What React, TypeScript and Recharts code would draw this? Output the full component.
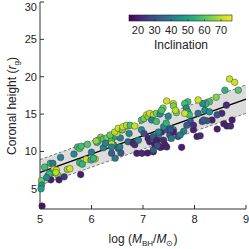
import React from 'react';
import { ComposedChart, XAxis, YAxis, Scatter, Line, Area } from 'recharts';

// log(M_BH / M_sun), coronal height (r_g) and inclination (deg), one entry per source
const logMass = [
  5.04, 5.03, 5.03, 5.02, 5.09, 5.2, 5.25, 5.27, 5.32, 5.22,
  5.16, 5.35, 5.21, 5.37, 5.47, 5.4, 5.53, 5.58, 5.66, 5.73,
  5.77, 5.8, 5.92, 5.77, 5.82, 5.9, 5.79, 6.11, 6.18, 5.99,
  6.0, 6.07, 6.13, 5.18, 5.13, 5.31, 6.23, 6.23, 6.3, 6.39,
  6.46, 6.59, 6.56, 6.04, 6.43, 6.52, 6.39, 6.46, 6.88, 6.98,
  7.2, 6.49, 6.69, 6.39, 6.27, 6.36, 6.45, 6.52, 6.6, 6.61,
  6.68, 6.75, 6.84, 6.73, 6.71, 6.81, 6.84, 6.91, 6.97, 6.97,
  7.02, 7.07, 7.1, 7.13, 7.2, 7.26, 7.33, 7.39, 7.36, 7.46,
  7.59, 7.65, 7.49, 7.17, 7.02, 7.1, 7.13, 7.2, 7.26, 7.3,
  7.36, 7.46, 7.52, 7.59, 7.55, 7.68, 7.39, 7.23, 7.36, 7.46,
  7.09, 6.55, 6.57, 6.39, 8.68, 8.78, 8.85, 8.59, 8.42, 8.29,
  8.22, 8.16, 8.07, 7.87, 7.81, 7.84, 7.87, 7.9, 7.81, 8.07,
  8.2, 8.62, 8.73, 8.53, 8.44, 8.34, 8.44, 8.63, 8.7, 8.57,
  8.15, 8.24, 7.98, 8.05, 8.11, 7.92, 7.85, 7.79, 7.72, 7.59,
  7.53, 7.75, 7.4, 7.2, 7.59, 7.63, 7.26, 7.4, 7.45, 7.53,
  7.3, 7.2, 7.27, 7.33, 7.43, 7.98, 8.18, 7.28, 8.29, 6.09,
];
const coronaHeight = [
  2.7, 6.1, 5.5, 5.0, 7.9, 8.4, 8.4, 7.6, 7.5, 7.1,
  6.8, 6.8, 6.2, 6.2, 6.6, 9.2, 7.6, 7.7, 9.65, 10.6,
  10.4, 10.7, 10.95, 8.5, 8.3, 8.95, 6.9, 11.2, 11.9, 8.85,
  9.9, 9.0, 11.5, 7.0, 6.5, 7.2, 10.5, 11.65, 11.8, 11.5,
  12.0, 12.9, 11.8, 9.07, 10.85, 10.4, 9.75, 9.1, 9.75, 9.75,
  9.95, 12.4, 13.4, 11.0, 11.1, 12.2, 12.6, 13.1, 12.9, 13.3,
  13.5, 13.5, 13.4, 12.4, 11.3, 11.1, 10.9, 11.5, 12.9, 14.2,
  14.4, 14.9, 14.65, 15.1, 14.9, 15.1, 15.0, 15.8, 15.5, 16.75,
  16.4, 15.2, 14.7, 14.2, 12.4, 11.75, 11.3, 11.6, 11.3, 12.0,
  12.6, 12.9, 12.2, 12.9, 11.75, 12.0, 11.3, 10.9, 10.6, 10.6,
  9.8, 10.6, 9.8, 10.6, 19.7, 19.25, 18.2, 18.2, 17.25, 16.65,
  16.4, 16.4, 16.9, 16.65, 16.4, 15.8, 15.3, 14.9, 15.1, 15.1,
  15.5, 16.2, 14.2, 15.1, 14.9, 14.2, 13.0, 13.4, 13.4, 13.7,
  14.0, 14.1, 12.9, 12.0, 12.1, 14.0, 13.5, 12.7, 12.2, 12.6,
  13.1, 10.55, 11.5, 10.2, 16.1, 15.5, 14.0, 13.3, 13.8, 12.9,
  12.6, 12.0, 11.5, 10.55, 10.85, 13.5, 14.2, 10.8, 15.3, 11.4,
];
const inclination = [
  18, 62, 45, 50, 58, 55, 40, 72, 73, 55,
  48, 64, 20, 20, 24, 42, 66, 72, 44, 57,
  60, 58, 60, 56, 55, 72, 20, 57, 65, 55,
  40, 72, 60, 56, 44, 70, 42, 60, 64, 57,
  50, 56, 42, 56, 42, 35, 33, 40, 20, 22,
  20, 72, 64, 72, 42, 62, 70, 72, 64, 72,
  70, 58, 72, 44, 35, 20, 22, 42, 45, 58,
  64, 72, 65, 72, 70, 64, 45, 64, 58, 72,
  72, 64, 44, 42, 28, 20, 20, 30, 32, 42,
  22, 30, 32, 42, 40, 30, 64, 20, 20, 22,
  20, 42, 32, 42, 72, 72, 60, 55, 65, 58,
  56, 45, 72, 58, 58, 44, 50, 58, 72, 38,
  45, 22, 20, 22, 30, 20, 20, 20, 22, 20,
  30, 32, 20, 20, 22, 32, 32, 42, 40, 20,
  42, 20, 22, 32, 64, 70, 58, 44, 55, 30,
  42, 32, 20, 20, 20, 22, 32, 30, 45, 66,
];

// linear fit and its scatter band
const fitX = [5, 9];
const fitY = [7.2, 17.0];
const bandLow = [5.5, 15.1];
const bandHigh = [8.9, 18.9];

const xTicks = [5, 6, 7, 8, 9];
const xMinorTicks = [5.2, 5.4, 5.6, 5.8, 6.2, 6.4, 6.6, 6.8, 7.2, 7.4, 7.6, 7.8, 8.2, 8.4, 8.6, 8.8];
const yTicks = [5, 10, 15, 20, 25, 30];
const yMinorTicks = [3, 4, 6, 7, 8, 9, 11, 12, 13, 14, 16, 17, 18, 19, 21, 22, 23, 24, 26, 27, 28, 29];
const cbarTicks = [20, 30, 40, 50, 60, 70];
const INC_MIN = 14.6;
const INC_MAX = 76.6;

const VIRIDIS = ['#440154', '#482475', '#414487', '#355f8d', '#2a788e', '#21918c', '#22a884', '#44bf70', '#7ad151', '#bddf26', '#fde725'];

const FONT = '"Liberation Sans", Arial, sans-serif';
const AXIS = '#333';

const hexToRgb = (h: string) => [1, 3, 5].map((i) => parseInt(h.slice(i, i + 2), 16));

const viridis = (v: number) => {
  const t = Math.min(1, Math.max(0, (v - INC_MIN) / (INC_MAX - INC_MIN)));
  const pos = t * (VIRIDIS.length - 1);
  const i = Math.min(VIRIDIS.length - 2, Math.floor(pos));
  const f = pos - i;
  const a = hexToRgb(VIRIDIS[i]);
  const b = hexToRgb(VIRIDIS[i + 1]);
  const c = a.map((ch, k) => Math.round(ch + (b[k] - ch) * f));
  return `rgb(${c[0]},${c[1]},${c[2]})`;
};

const points = logMass.map((x, i) => ({ x, y: coronaHeight[i], inc: inclination[i] }));
const fitData = fitX.map((x, i) => ({ x, y: fitY[i] }));
const bandData = fitX.map((x, i) => ({ x, band: [bandLow[i], bandHigh[i]], lo: bandLow[i], hi: bandHigh[i] }));

const renderDot = (props: any) => {
  const { cx, cy, payload } = props;
  if (cx == null || cy == null) return <g />;
  return <circle cx={cx} cy={cy} r={3.3} fill={viridis(payload.inc)} stroke="#333" strokeWidth={0.45} />;
};

// top label is nudged down so it stays inside the page, as in the original
const YTick = (props: any) => {
  const { x, y, payload } = props;
  const shift = payload.value === 30 ? 5 : 0;
  return (
    <text x={x} y={y + shift} dy="0.355em" textAnchor="end" fontSize={11} fontFamily={FONT} fill="#222">
      {payload.value}
    </text>
  );
};

// colorbar geometry (page pixels)
const CB_X0 = 129;
const CB_X1 = 232;
const CB_Y = 15;
const CB_H = 6;
const cbX = (v: number) => CB_X0 + ((v - INC_MIN) / (INC_MAX - INC_MIN)) * (CB_X1 - CB_X0);

const tickStyle = { fontSize: 11, fill: '#222', fontFamily: FONT };

const Overlay = () => (
  <svg width={249} height={249} style={{ position: 'absolute', left: 0, top: 0, pointerEvents: 'none' }}>
    <defs>
      <linearGradient id="vir" x1="0" x2="1" y1="0" y2="0">
        {VIRIDIS.map((c, i) => (
          <stop key={i} offset={`${(i / (VIRIDIS.length - 1)) * 100}%`} stopColor={c} />
        ))}
      </linearGradient>
    </defs>
    <rect x={CB_X0} y={CB_Y} width={CB_X1 - CB_X0} height={CB_H} fill="url(#vir)" stroke="#222" strokeWidth={0.6} />
    {cbarTicks.map((t) => (
      <g key={t}>
        <line x1={cbX(t)} x2={cbX(t)} y1={CB_Y + CB_H} y2={CB_Y + CB_H - 2} stroke="#222" strokeWidth={0.6} />
        <text x={cbX(t)} y={34} textAnchor="middle" fontSize={11} fontFamily={FONT} fill="#222">
          {t}
        </text>
      </g>
    ))}
    <text x={181} y={49} textAnchor="middle" fontSize={12} fontFamily={FONT} fill="#222">
      Inclination
    </text>
    <text
      x={0}
      y={0}
      transform="translate(16,106) rotate(-90)"
      textAnchor="middle"
      fontSize={12}
      fontFamily={FONT}
      fill="#222"
    >
      Coronal height (<tspan fontStyle="italic">r</tspan>
      <tspan fontSize={8} dy={2.5}>g</tspan>
      <tspan dy={-2.5}>)</tspan>
    </text>
    <text x={143} y={243} textAnchor="middle" fontSize={12} fontFamily={FONT} fill="#222">
      log (<tspan fontStyle="italic">M</tspan>
      <tspan fontSize={8} dy={2.5}>BH</tspan>
      <tspan dy={-2.5}>/</tspan>
      <tspan fontStyle="italic">M</tspan>
      <tspan fontSize={8} dy={2.5}>⊙</tspan>
      <tspan dy={-2.5}>)</tspan>
    </text>
  </svg>
);

export default function App() {
  return (
    <div style={{ position: 'absolute', left: 0, top: 0, width: 249, height: 249, background: '#fff' }}>
      <ComposedChart width={249} height={249} margin={{ top: 2, right: 3, left: 0, bottom: 0 }}>
        <XAxis
          xAxisId={0}
          dataKey="x"
          type="number"
          domain={[5, 9]}
          ticks={xTicks}
          interval={0}
          height={40}
          tickSize={-4}
          tickMargin={10}
          stroke={AXIS}
          tick={tickStyle}
        />
        <XAxis xAxisId="minB" type="number" domain={[5, 9]} ticks={xMinorTicks} interval={0} height={0} tickSize={-2} tick={false} axisLine={false} stroke={AXIS} />
        <XAxis xAxisId="top" orientation="top" type="number" domain={[5, 9]} ticks={xTicks} interval={0} height={0} tickSize={-4} tick={false} stroke={AXIS} />
        <XAxis xAxisId="minT" orientation="top" type="number" domain={[5, 9]} ticks={xMinorTicks} interval={0} height={0} tickSize={-2} tick={false} axisLine={false} stroke={AXIS} />
        <YAxis
          yAxisId={0}
          dataKey="y"
          type="number"
          domain={[2.3, 30]}
          ticks={yTicks}
          interval={0}
          width={40}
          tickSize={-4}
          tickMargin={7}
          stroke={AXIS}
          tick={<YTick />}
          allowDataOverflow
        />
        <YAxis yAxisId="minL" type="number" domain={[2.3, 30]} ticks={yMinorTicks} interval={0} width={0} tickSize={-2} tick={false} axisLine={false} stroke={AXIS} allowDataOverflow />
        <YAxis yAxisId="right" orientation="right" type="number" domain={[2.3, 30]} ticks={yTicks} interval={0} width={0} tickSize={-4} tick={false} stroke={AXIS} allowDataOverflow />
        <YAxis yAxisId="minR" orientation="right" type="number" domain={[2.3, 30]} ticks={yMinorTicks} interval={0} width={0} tickSize={-2} tick={false} axisLine={false} stroke={AXIS} allowDataOverflow />
        <Area
          data={bandData}
          dataKey="band"
          type="linear"
          fill="#d6d6d6"
          fillOpacity={0.85}
          stroke="none"
          isAnimationActive={false}
        />
        <Line data={bandData} dataKey="lo" type="linear" stroke="#555" strokeWidth={0.8} strokeDasharray="3 2" dot={false} isAnimationActive={false} />
        <Line data={bandData} dataKey="hi" type="linear" stroke="#555" strokeWidth={0.8} strokeDasharray="3 2" dot={false} isAnimationActive={false} />
        <Scatter data={points} dataKey="y" shape={renderDot} isAnimationActive={false} />
        <Line data={fitData} dataKey="y" type="linear" stroke="#000" strokeWidth={1.4} dot={false} isAnimationActive={false} />
      </ComposedChart>
      <Overlay />
    </div>
  );
}
